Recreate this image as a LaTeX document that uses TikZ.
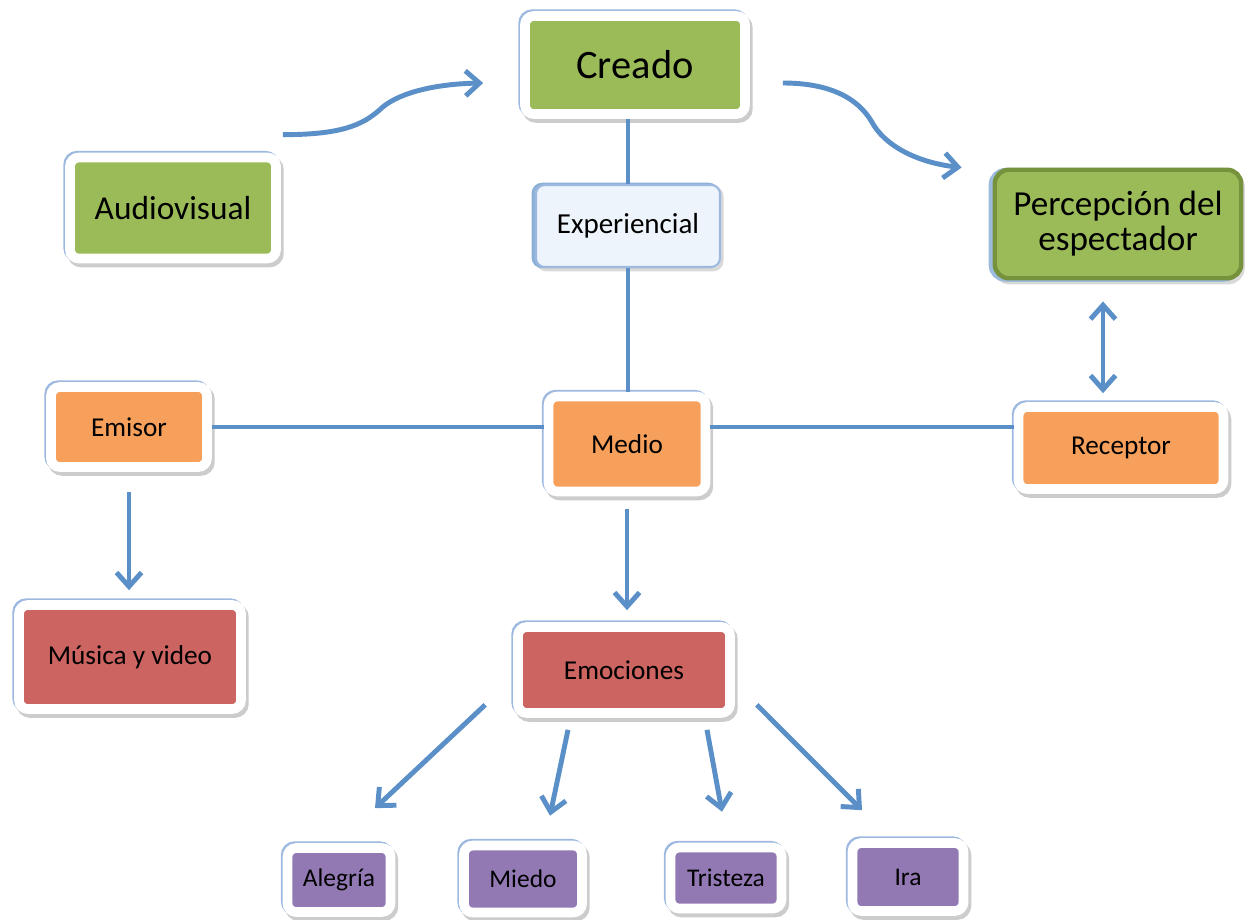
\documentclass[tikz,border=0pt]{standalone}
\usepackage{fontspec}
\setmainfont{Carlito}
\usetikzlibrary{arrows.meta,calc}
\definecolor{leaf}{HTML}{9BBB59}
\definecolor{leafdark}{HTML}{76923C}
\definecolor{amber}{HTML}{F6A05B}
\definecolor{brick}{HTML}{CC6461}
\definecolor{lilac}{HTML}{9379B4}
\definecolor{steel}{HTML}{5B8FC7}
\definecolor{edgeblue}{HTML}{9DB9E0}
\definecolor{paleblue}{HTML}{EEF4FB}
\tikzset{
box/.style={rectangle, rounded corners=5pt, draw=white, line width=5.5pt, inner sep=0pt,
  align=center, text=black, font=\fontsize{15.5}{18}\selectfont,
  preaction={draw=black!20, line width=6pt, transform canvas={shift={(1.4pt,-2pt)}}},
  preaction={draw=edgeblue, line width=5.5pt, transform canvas={shift={(-1pt,1pt)}}}},
greenbox/.style={box, fill=leaf},
orangebox/.style={box, fill=amber},
redbox/.style={box, fill=brick},
purplebox/.style={box, fill=lilac, font=\fontsize{14.5}{17}\selectfont},
link/.style={draw=steel, line width=2.8pt},
arrow/.style={link, -{Straight Barb[length=2.8mm,width=5mm]}},
}

\begin{document}
\begin{tikzpicture}
    \useasboundingbox (0,0) rectangle (24.98,-18.38);
    % top row
    \node[greenbox, minimum width=4.4cm, minimum height=1.96cm, font=\fontsize{23}{27}\selectfont] (creado) at (12.70,-1.30) {Creado};
    \node[greenbox, minimum width=4.12cm, minimum height=2.02cm, font=\fontsize{19}{22}\selectfont] (audio) at (3.46,-4.16) {Audiovisual};
    \node[rectangle, rounded corners=5pt, fill=paleblue, draw=edgeblue, line width=1.2pt, inner sep=0pt,
          minimum width=3.68cm, minimum height=1.64cm, font=\fontsize{16.5}{19}\selectfont,
          preaction={draw=black!15, line width=2pt, transform canvas={shift={(1pt,-1.5pt)}}},
          preaction={draw=steel!70, line width=2pt, transform canvas={shift={(-1.5pt,0.3pt)}}}]
          (exper) at (12.56,-4.52) {Experiencial};
    \node[rectangle, rounded corners=8pt, fill=leaf, draw=leafdark, line width=2.5pt, inner sep=0pt,
          minimum width=4.93cm, minimum height=2.17cm, align=center, font=\fontsize{20}{20}\selectfont,
          preaction={draw=black!15, line width=3pt, transform canvas={shift={(0.5pt,-2pt)}}},
          preaction={draw=steel!60, line width=3pt, transform canvas={shift={(-2pt,-0.5pt)}}}]
          (percep) at (22.36,-4.48) {Percepción del\\espectador};
    % middle row
    \node[orangebox, minimum width=3.12cm, minimum height=1.6cm] (emisor) at (2.58,-8.54) {Emisor};
    \node[orangebox, minimum width=3.14cm, minimum height=1.9cm] (medio) at (12.54,-8.88) {Medio};
    \node[orangebox, minimum width=4.1cm, minimum height=1.64cm] (receptor) at (22.42,-8.96) {Receptor};
    \node[redbox, minimum width=4.44cm, minimum height=2.08cm] (musica) at (2.60,-13.14) {Música y video};
    \node[redbox, minimum width=4.24cm, minimum height=1.72cm] (emoc) at (12.48,-13.40) {Emociones};
    % emotions
    \node[purplebox, minimum width=2.06cm, minimum height=1.28cm] (alegria) at (6.78,-17.60) {Alegría};
    \node[purplebox, minimum width=2.36cm, minimum height=1.34cm] (miedo) at (10.46,-17.58) {Miedo};
    \node[purplebox, minimum width=2.22cm, minimum height=1.22cm] (tristeza) at (14.52,-17.56) {Tristeza};
    \node[purplebox, minimum width=2.22cm, minimum height=1.36cm] (ira) at (18.16,-17.54) {Ira};

    % lines
    \draw[link] (exper.north) -- (exper.north |- creado.south);
    \draw[link] (exper.south) -- (exper.south |- medio.north);
    \draw[link] (emisor.east) -- (emisor.east -| medio.west);
    \draw[link] (medio.east |- emisor.east) -- (receptor.west |- emisor.east);

    % curved arrows
    \draw[arrow] ([shift={(0.04,0.36)}]audio.north east)
        .. controls +(1.14,0) and +(-0.36,-0.32) .. ++(1.94,0.5)
        .. controls +(0.3,0.3) and +(-1.06,-0.02) .. ([shift={(-0.74,-0.36)}]creado.west);
    \draw[arrow] ([shift={(0.66,-0.36)}]creado.east)
        .. controls +(0.94,0) and +(-0.28,0.48) .. ++(1.78,-0.78)
        .. controls +(0.26,-0.48) and +(-0.88,0.1) .. ([shift={(-0.62,0)}]percep.north west);

    % straight arrows
    \draw[link, {Straight Barb[length=2.8mm,width=5mm]}-{Straight Barb[length=2.8mm,width=5mm]},
          shorten <=0.42cm, shorten >=0.18cm]
        ([xshift=-0.3cm]percep.south) -- ([xshift=-0.3cm]percep.south |- receptor.north);
    \draw[arrow, shorten <=0.4cm, shorten >=0.2cm] (emisor.south) -- (emisor.south |- musica.north);
    \draw[arrow, shorten <=0.26cm, shorten >=0.24cm] (medio.south) -- (medio.south |- emoc.north);
    \draw[arrow] ([shift={(-0.56,0.26)}]emoc.south west) -- ([shift={(0.72,0.7)}]alegria.north);
    \draw[arrow] ([shift={(-1.12,-0.24)}]emoc.south) -- ([shift={(0.54,0.5)}]miedo.north);
    \draw[arrow] ([shift={(1.66,-0.24)}]emoc.south) -- ([shift={(-0.08,0.62)}]tristeza.north);
    \draw[arrow] ([shift={(0.44,0.26)}]emoc.south east) -- ([shift={(-0.92,0.56)}]ira.north);
\end{tikzpicture}
\end{document}
